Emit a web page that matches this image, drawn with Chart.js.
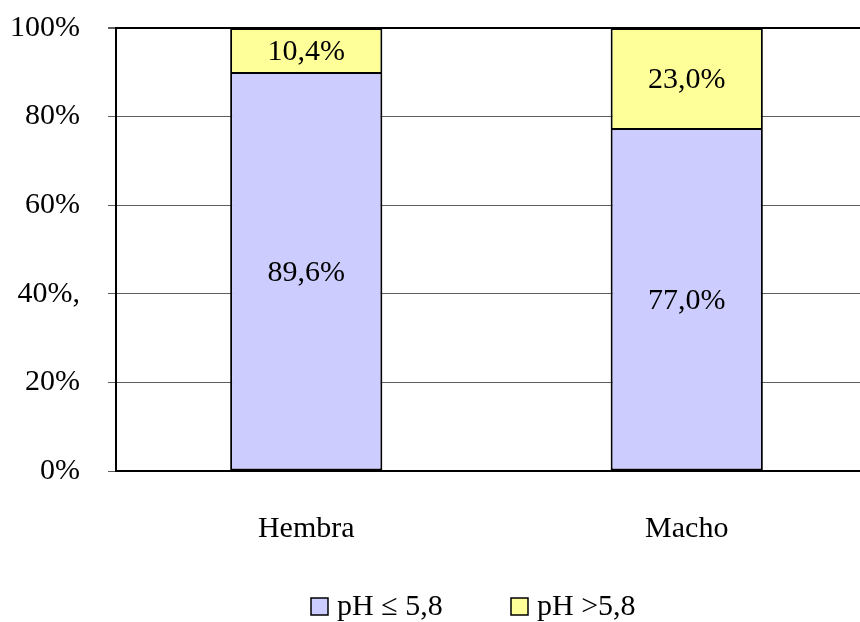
<!DOCTYPE html>
<html>
<head>
<meta charset="utf-8">
<script src="https://cdn.jsdelivr.net/npm/chart.js@4/dist/chart.umd.min.js"></script>
<style>
  html, body { margin: 0; padding: 0; background: #fff; overflow: hidden; }
  #wrap { width: 877px; height: 622px; }
</style>
</head>
<body>
<div id="wrap"><canvas id="c" width="877" height="622"></canvas></div>
<script>
// Share of pH values by sex
const categories = ['Hembra', 'Macho'];
const phLow = [89.6, 77.0];
const phHigh = [10.4, 23.0];
const seriesLabels = ['pH \u2264 5,8', 'pH >5,8'];
const yTickValues = [0, 20, 40, 60, 80, 100];
const yTickLabels = ['0%', '20%', '40%,', '60%', '80%', '100%'];

const FONT = '"Liberation Serif", "Times New Roman", serif';
const colors = ['#CCCCFF', '#FFFF99'];

const fmt = v => v.toFixed(1).replace('.', ',') + '%';

// Writes each segment's value in the middle of its bar piece
const barValues = {
  id: 'barValues',
  afterDatasetsDraw(chart) {
    const ctx = chart.ctx;
    ctx.save();
    ctx.font = '30px ' + FONT;
    ctx.fillStyle = '#000';
    ctx.textAlign = 'center';
    ctx.textBaseline = 'middle';
    chart.data.datasets.forEach((ds, i) => {
      chart.getDatasetMeta(i).data.forEach((el, j) => {
        const p = el.getProps(['x', 'y', 'base'], true);
        ctx.fillText(fmt(ds.data[j]), p.x, (p.y + p.base) / 2 + 1);
      });
    });
    ctx.restore();
  }
};

// Square swatches with the series names under the plot
const swatchLegend = {
  id: 'swatchLegend',
  afterDraw(chart, args, opts) {
    const ctx = chart.ctx;
    ctx.save();
    ctx.font = '30px ' + FONT;
    ctx.textBaseline = 'middle';
    ctx.textAlign = 'left';
    chart.data.datasets.forEach((ds, i) => {
      const x = opts.boxX[i];
      ctx.fillStyle = ds.backgroundColor;
      ctx.fillRect(x, opts.boxY, opts.box, opts.box);
      ctx.lineWidth = 1.5;
      ctx.strokeStyle = '#000';
      ctx.strokeRect(x, opts.boxY, opts.box, opts.box);
      ctx.fillStyle = '#000';
      ctx.fillText(ds.label, x + opts.box + 9, opts.boxY + opts.box / 2 + 1);
    });
    ctx.restore();
  }
};

new Chart(document.getElementById('c'), {
  type: 'bar',
  data: {
    labels: categories,
    datasets: [
      // lower piece leaves its top edge to the piece stacked above it
      { label: seriesLabels[0], data: phLow, backgroundColor: colors[0], borderSkipped: 'top' },
      { label: seriesLabels[1], data: phHigh, backgroundColor: colors[1], borderSkipped: false }
    ]
  },
  options: {
    responsive: false,
    animation: false,
    devicePixelRatio: 1,
    layout: { padding: { top: 28, left: 0, right: 0, bottom: 0 } },
    datasets: {
      bar: {
        borderColor: '#000',
        borderWidth: 2,
        categoryPercentage: 0.8,
        barPercentage: 0.5
      }
    },
    plugins: {
      legend: { display: false },
      tooltip: { enabled: false },
      swatchLegend: { boxX: [311, 511], boxY: 598, box: 17 }
    },
    scales: {
      x: {
        stacked: true,
        afterFit(scale) { scale.height = 151; },
        grid: { display: false, drawTicks: false },
        border: { display: true, color: '#000', width: 2 },
        ticks: { color: '#000', font: { family: FONT, size: 30 }, padding: 40 }
      },
      y: {
        stacked: true,
        min: 0,
        max: 100,
        afterFit(scale) {
          scale.width = 116;
          scale.paddingTop = 0;
          scale.paddingBottom = 0;
        },
        afterBuildTicks(scale) { scale.ticks = yTickValues.map(v => ({ value: v })); },
        grid: {
          color: ctx => (ctx.tick && ctx.tick.value === 100) ? '#000' : '#5e5e5e',
          lineWidth: ctx => (ctx.tick && ctx.tick.value === 100) ? 2 : 1,
          tickColor: '#5e5e5e',
          tickLength: 8,
          drawTicks: true
        },
        border: { display: true, color: '#000', width: 2 },
        ticks: {
          color: '#000',
          font: { family: FONT, size: 30 },
          padding: 28,
          callback: (v) => yTickLabels[yTickValues.indexOf(v)]
        }
      }
    }
  },
  plugins: [barValues, swatchLegend]
});
</script>
</body>
</html>
